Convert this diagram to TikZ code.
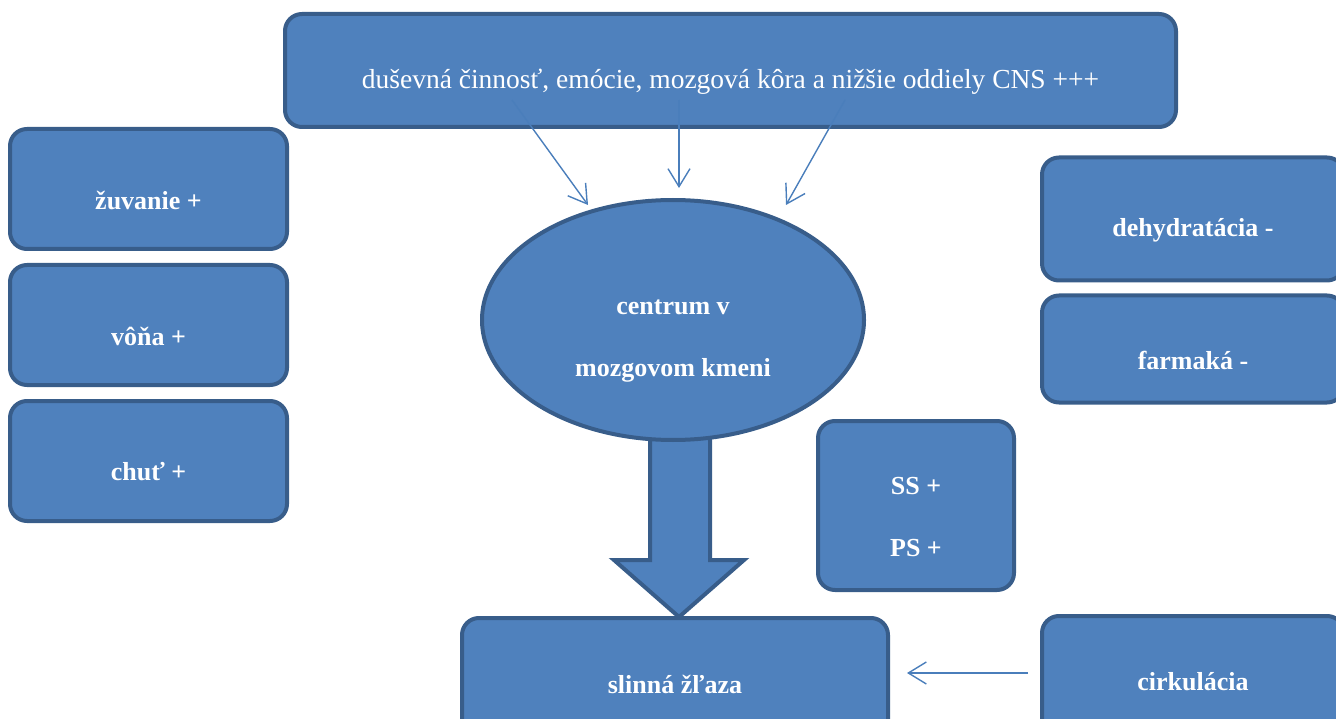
\documentclass[tikz,border=0pt]{standalone}
\usepackage{fontspec}
\setmainfont{Liberation Serif}
\usetikzlibrary{arrows.meta,shapes.geometric}
\definecolor{boxfill}{HTML}{4F81BD}
\definecolor{boxdraw}{HTML}{385D8A}
\definecolor{thinline}{HTML}{4A7EBB}
\begin{document}
\begin{tikzpicture}[x=1pt,y=-1pt,
  shape base/.style={draw=boxdraw, fill=boxfill, line width=4pt, inner sep=0pt},
  bluebox/.style={shape base, rectangle, rounded corners=17pt},
  blueell/.style={shape base, ellipse},
  boxtext/.style={text=white, font=\fontsize{26}{62}\selectfont\bfseries, align=center},
  toptext/.style={text=white, font=\fontsize{27.5}{30}\selectfont},
  thin arrow/.style={draw=thinline, line width=1.4pt, -{Straight Barb[length=18pt,width=22pt,line width=1.4pt]}}]
\useasboundingbox (0,0) rectangle (1336,719);
\clip (0,0) rectangle (1336,719);
% big arrow (drawn first, under the ellipse)
\draw[shape base, line join=miter] (650,425) -- (710,425) -- (710,560) -- (744,560) -- (679,617) -- (614,560) -- (650,560) -- cycle;
% top box
\node[bluebox, minimum width=891pt, minimum height=113pt,
  label={[toptext, yshift=-11pt]center:duševná činnosť, emócie, mozgová kôra a nižšie oddiely CNS +++}] (top) at (730.5,70.5) {};
% left boxes
\node[bluebox, minimum width=277pt, minimum height=120pt, label={[boxtext, yshift=-11pt]center:žuvanie +}] (zuv) at (148.5,189) {};
\node[bluebox, minimum width=277pt, minimum height=120pt, label={[boxtext, yshift=-11pt]center:vôňa +}] (vona) at (148.5,325) {};
\node[bluebox, minimum width=277pt, minimum height=120pt, label={[boxtext, yshift=-11pt]center:chuť +}] (chut) at (148.5,461) {};
% ellipse
\node[blueell, minimum width=382pt, minimum height=240pt, label={[boxtext, yshift=-21pt]center:centrum v\\mozgovom kmeni}] (ell) at (673,320) {};
% right boxes
\node[bluebox, minimum width=302pt, minimum height=123pt, label={[boxtext, yshift=-11pt]center:dehydratácia -}] (dehy) at (1193,219) {};
\node[bluebox, minimum width=302pt, minimum height=107pt, label={[boxtext, yshift=-11pt]center:farmaká -}] (farm) at (1193,349) {};
% SS/PS box
\node[bluebox, minimum width=196pt, minimum height=169pt, label={[boxtext, yshift=-12pt]center:SS +\\PS +}] (ssps) at (916,505.5) {};
% bottom boxes
\node[bluebox, minimum width=426pt, minimum height=132pt, label={[boxtext]center:slinná žľaza}] (slin) at (675,684) {};
\node[bluebox, minimum width=302pt, minimum height=132pt, label={[boxtext]center:cirkulácia}] (cirk) at (1193,682) {};
% thin arrows
\coordinate (a1s) at (512,100);
\coordinate (a1e) at (588,205);
\coordinate (a2s) at (679,100);
\coordinate (a2e) at (679,188);
\coordinate (a3s) at (845,100);
\coordinate (a3e) at (786,205);
\draw[thin arrow] (a1s) -- (a1e);
\draw[thin arrow] (a2s) -- (a2e);
\draw[thin arrow] (a3s) -- (a3e);
\coordinate (c1s) at (1028,673);
\coordinate (c1e) at (907,673);
\draw[thin arrow] (c1s) -- (c1e);
\end{tikzpicture}
\end{document}
